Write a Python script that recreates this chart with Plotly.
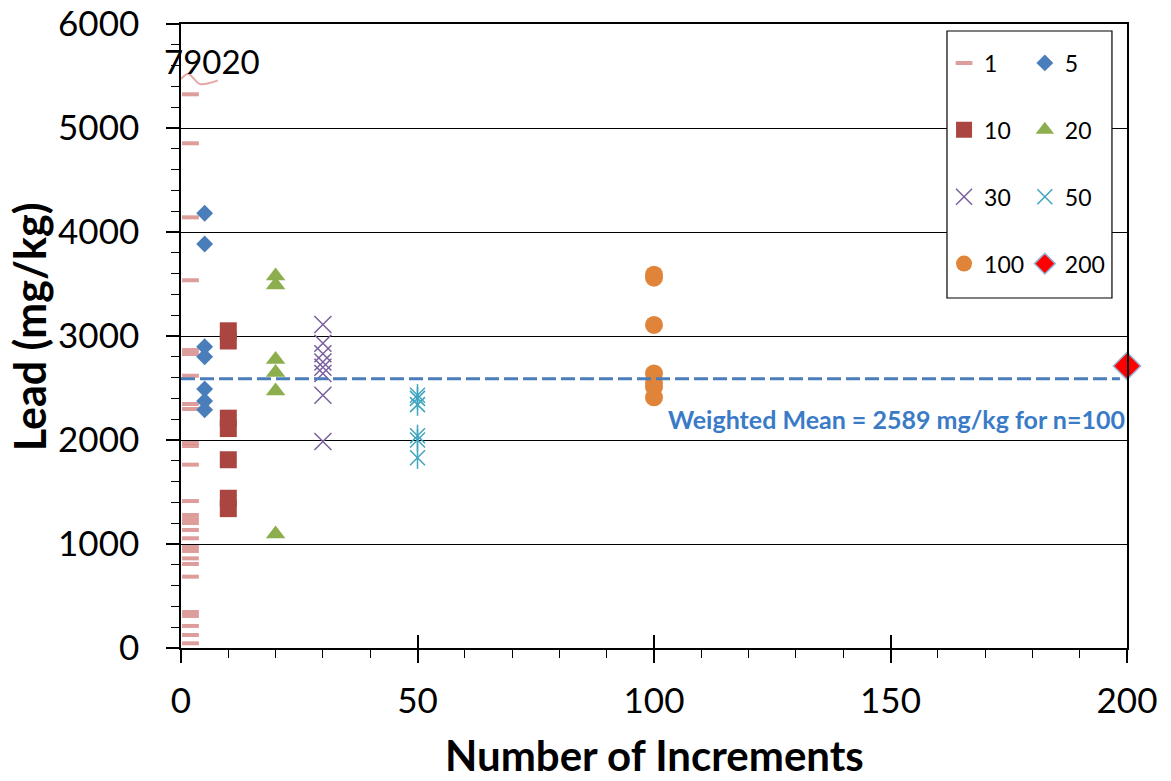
import plotly.graph_objects as go

# Lead concentration (mg/kg) for each sample size (number of increments)
N1_X = 2
N1_LEAD = [5324, 4853, 4141, 3536, 2865, 2827, 2618, 2346, 2298, 1971, 1942, 1763,
           1413, 1279, 1240, 1202, 1135, 1055, 971, 933, 862, 808, 686, 346, 308,
           212, 125, 45]
N1_OUTLIER = 79020          # off-scale result for a single increment
N5_LEAD = [4180, 3885, 2897, 2800, 2490, 2375, 2290]
N10_LEAD = [3050, 2952, 2210, 2110, 1810, 1440, 1340]
N20_LEAD = [3577, 3490, 2773, 2650, 2471, 1096]
N30_LEAD = [3110, 2930, 2830, 2750, 2700, 2640, 2430, 1985]
N50_LEAD = [2430, 2400, 2340, 2040, 2000, 1830]
N100_LEAD = [3590, 3560, 3106, 2640, 2550, 2510, 2410]
N200_LEAD = [2712]
WEIGHTED_MEAN = 2589

# break mark drawn near the top of the n=1 column
BREAK_X = [0, 1.5, 4.0, 6.0, 7.8]
BREAK_Y = [5470, 5519, 5423, 5432, 5458]

FONT = "Lato"

fig = go.Figure()


def series(name, xval, ys, legend, **marker):
    fig.add_trace(go.Scatter(
        x=[xval] * len(ys), y=ys, mode="markers", name=name,
        legend=legend, legendgroup=name, marker=marker, cliponaxis=False,
    ))


series("1", N1_X, N1_LEAD, "legend", symbol="line-ew", size=12,
       color="rgba(214,140,138,0.85)", line=dict(width=4, color="rgba(214,140,138,0.85)"))
series("5", 5, N5_LEAD, "legend2", symbol="diamond", size=13, color="#4A7EBB")
series("10", 10, N10_LEAD, "legend", symbol="square", size=17, color="#AA4541")
series("20", 20, N20_LEAD, "legend2", symbol="triangle-up", size=17, color="#8DAE4E")
series("30", 30, N30_LEAD, "legend", symbol="x-thin", size=17,
       color="#7A5F9E", line=dict(width=1.5, color="#7A5F9E"))
series("50", 50, N50_LEAD, "legend2", symbol="x-thin", size=15,
       color="#3FA5BF", line=dict(width=1.5, color="#3FA5BF"))
# vertical stroke completing the star marker of the n=50 series
fig.add_trace(go.Scatter(
    x=[50] * len(N50_LEAD), y=N50_LEAD, mode="markers", showlegend=False,
    legendgroup="50", cliponaxis=False,
    marker=dict(symbol="line-ns", size=16, color="#3FA5BF",
                line=dict(width=1.5, color="#3FA5BF")),
))
series("100", 100, N100_LEAD, "legend", symbol="circle", size=18, color="#DF8438")
series("200", 200, N200_LEAD, "legend2", symbol="diamond", size=21, color="#FF0000",
       line=dict(width=1.5, color="#95B3D7"))

# weighted mean line
fig.add_trace(go.Scatter(
    x=[0, 198.5], y=[WEIGHTED_MEAN, WEIGHTED_MEAN], mode="lines", showlegend=False,
    line=dict(color="#4A7EBB", width=3, dash="14px,5px"), hoverinfo="skip",
))

# axis break squiggle for the off-scale value
fig.add_trace(go.Scatter(
    x=BREAK_X, y=BREAK_Y, mode="lines", showlegend=False, hoverinfo="skip",
    line=dict(color="#E6A8A6", width=2, shape="spline"),
))

fig.add_annotation(x=6.6, y=5640, xref="x", yref="y", xanchor="center", yanchor="middle",
                   text=f"{N1_OUTLIER}", showarrow=False,
                   font=dict(family=FONT, size=33, color="black"))

fig.add_annotation(x=200, y=2200, xref="x", yref="y", xanchor="right", yanchor="middle",
                   text=f"<b>Weighted Mean = {WEIGHTED_MEAN} mg/kg for n=100</b>",
                   showarrow=False, font=dict(family=FONT, size=25, color="#3A7BC8"))

# axis titles
fig.add_annotation(x=0.5, y=-0.1715, xref="paper", yref="paper",
                   xanchor="center", yanchor="middle",
                   text="<b>Number of Increments</b>", showarrow=False,
                   font=dict(family=FONT, size=42, color="black"))
fig.add_annotation(x=-0.160, y=0.515, xref="paper", yref="paper", textangle=-90,
                   xanchor="center", yanchor="middle",
                   text="<b>Lead (mg/kg)</b>", showarrow=False,
                   font=dict(family=FONT, size=43, color="black"))

# legend frame
fig.add_shape(type="rect", xref="paper", yref="paper",
              x0=0.8097, x1=0.9841, y0=0.5609, y1=0.9888,
              line=dict(color="black", width=1.2), fillcolor="white", layer="above")

legend_style = dict(
    font=dict(family=FONT, size=23, color="black"),
    bgcolor="rgba(0,0,0,0)", borderwidth=0, tracegroupgap=34,
    xanchor="left", yanchor="top", y=0.972, itemwidth=30, itemsizing="trace",
)

fig.update_layout(
    width=1171, height=781, autosize=False,
    margin=dict(l=181, r=44, t=24, b=133, autoexpand=False),
    paper_bgcolor="white", plot_bgcolor="white",
    font=dict(family=FONT, color="black"),
    showlegend=True,
    legend=dict(x=0.8066, **legend_style),
    legend2=dict(x=0.892, **legend_style),
    xaxis=dict(
        range=[0, 200], tickmode="linear", tick0=0, dtick=50, automargin=False,
        ticks="outside", ticklen=13, tickwidth=1.5, tickcolor="black",
        showgrid=False, zeroline=False,
        showline=True, linecolor="black", linewidth=1.5, mirror=True,
        tickfont=dict(family=FONT, size=35, color="black"),
        ticklabelstandoff=8,
        minor=dict(dtick=10, ticks="outside", ticklen=8, tickwidth=1.2, tickcolor="black"),
    ),
    xaxis2=dict(
        range=[0, 200], overlaying="x", matches="x", tickmode="linear", tick0=0, dtick=50,
        automargin=False,
        ticks="inside", ticklen=13, tickwidth=1.5, tickcolor="black",
        showticklabels=False, showgrid=False, zeroline=False, showline=False,
    ),
    yaxis=dict(
        range=[0, 6000], tickmode="linear", tick0=0, dtick=1000, automargin=False,
        ticks="outside", ticklen=13, tickwidth=1.5, tickcolor="black",
        showgrid=True, gridcolor="black", gridwidth=1, zeroline=False,
        showline=True, linecolor="black", linewidth=1.5, mirror=True,
        tickfont=dict(family=FONT, size=35, color="black"),
        ticklabelstandoff=20,
        minor=dict(dtick=200, ticks="outside", ticklen=8, tickwidth=1.2,
                   tickcolor="black", showgrid=False),
    ),
)

# invisible trace so the overlay tick axis is drawn
fig.add_trace(go.Scatter(x=[0], y=[0], xaxis="x2", mode="markers", showlegend=False,
                         marker=dict(opacity=0), hoverinfo="skip"))

fig.write_html("out.html")
